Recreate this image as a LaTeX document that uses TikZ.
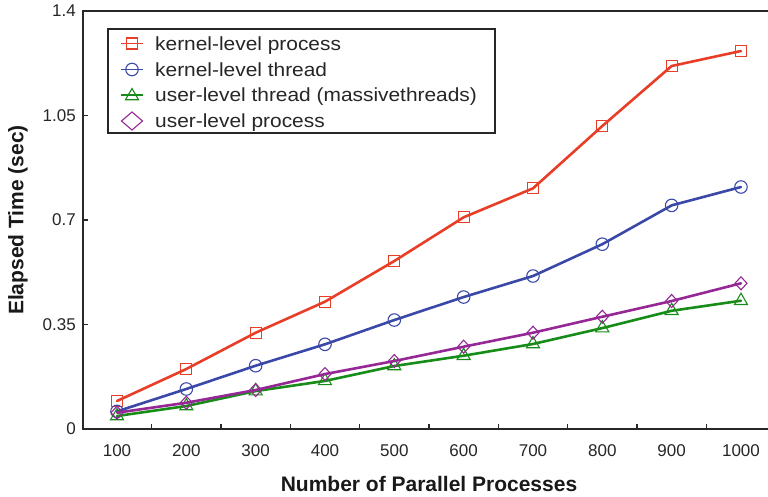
\documentclass[tikz,border=0pt]{standalone}
\usepackage{fontspec}
\setmainfont{Liberation Sans}
\newfontfamily\legendfont[FakeStretch=1.1]{Liberation Sans}
\usetikzlibrary{shapes.geometric}

\definecolor{kproc}{RGB}{232,62,40}
\definecolor{kthr}{RGB}{58,72,168}
\definecolor{uthr}{RGB}{24,140,24}
\definecolor{uproc}{RGB}{150,40,150}
\definecolor{axisgray}{RGB}{40,40,40}

\begin{document}
\begin{tikzpicture}[x=1pt,y=-1pt,
  ticklabel/.style={inner sep=0pt, font=\fontsize{17}{17}\selectfont, text=black!85},
  axislabel/.style={inner sep=0pt, font=\fontsize{21}{21}\selectfont\bfseries, text=black!90},
  legendtext/.style={inner sep=0pt, anchor=base west, font=\legendfont\fontsize{19}{19}\selectfont, text=black!85},
  serieline/.style={line width=2.6pt, line join=round, line cap=round},
  stubline/.style={line width=1.4pt},
  markbase/.style={inner sep=0pt, outer sep=0pt, line width=1.1pt},
  sqmark/.style={markbase, draw, rectangle, minimum size=11pt},
  circmark/.style={markbase, draw, circle, minimum size=12.5pt},
  trimark/.style={markbase, draw, regular polygon, regular polygon sides=3, minimum size=15pt},
  diamark/.style={markbase, draw, diamond, minimum width=12pt, minimum height=13pt},
  bigdiamark/.style={markbase, draw, diamond, minimum width=21pt, minimum height=18pt}
]
\useasboundingbox (0,0) rectangle (768,496);

% axes frame
\draw[axisgray, line width=1.6pt] (776,11) -- (83,11) -- (83,429) -- (776,429);

% y ticks and labels
\foreach \v/\lab in {0/0, 0.35/0.35, 0.7/0.7, 1.05/1.05, 1.4/1.4} {
  \pgfmathsetmacro{\yy}{429-298.57*\v}
  \draw[axisgray, line width=1.2pt] (83,\yy) -- (88,\yy);
  \node[ticklabel, anchor=east] (yl\lab) at (76,\yy) {\lab};
}

% x ticks (between labels) and labels
\foreach \n in {1,...,10} {
  \pgfmathsetmacro{\xx}{117+69.33*(\n-1)}
  \node[ticklabel, anchor=base] (xl\n) at (\xx,456.7) {\the\numexpr\n*100\relax};
}
\foreach \n in {1,...,10} {
  \pgfmathsetmacro{\xx}{117+69.33*(\n-1)+34.665}
  \draw[axisgray, line width=1.2pt] (\xx,429) -- (\xx,424);
}

% axis titles
\node[axislabel, anchor=base] (xtitle) at (429,491) {Number of Parallel Processes};
\node[axislabel, anchor=base, rotate=90] (ytitle) at (23.3,220) {Elapsed Time (sec)};

% data (x: processes, y: seconds)
\begin{scope}[shift={(47.67,429)}, x=0.6933pt, y=298.57pt]
  \foreach \v [count=\i] in {0.0938,0.201,0.3225,0.4264,0.5627,0.709,0.806,1.0148,1.2158,1.266}
    \coordinate (r\i) at ({100*\i},\v);
  \foreach \v [count=\i] in {0.059,0.134,0.212,0.2837,0.365,0.442,0.5124,0.619,0.749,0.8105}
    \coordinate (b\i) at ({100*\i},\v);
  \foreach \v [count=\i] in {0.0435,0.077,0.127,0.161,0.211,0.2455,0.2847,0.338,0.396,0.4297}
    \coordinate (g\i) at ({100*\i},\v);
  \foreach \v [count=\i] in {0.0546,0.088,0.1306,0.184,0.2277,0.2757,0.3225,0.376,0.4287,0.488}
    \coordinate (p\i) at ({100*\i},\v);
\end{scope}

\draw[serieline, kproc] (r1) \foreach \i in {2,...,10} { -- (r\i) };
\foreach \i in {1,...,10} \node[sqmark, draw=kproc] (rm\i) at (r\i) {};

\draw[serieline, kthr] (b1) \foreach \i in {2,...,10} { -- (b\i) };
\foreach \i in {1,...,10} \node[circmark, draw=kthr] (bm\i) at (b\i) {};

\draw[serieline, uthr] (g1) \foreach \i in {2,...,10} { -- (g\i) };
\foreach \i in {1,...,10} \node[trimark, draw=uthr] (gm\i) at (g\i) {};

\draw[serieline, uproc] (p1) \foreach \i in {2,...,10} { -- (p\i) };
\foreach \i in {1,...,10} \node[diamark, draw=uproc] (pm\i) at (p\i) {};

% legend
\node[draw=black!85, line width=1.2pt, fill=white, inner sep=0pt,
      minimum width=387pt, minimum height=104pt] (legend) at (301.5,81) {};

\coordinate (la1) at (121,43.5);  \coordinate (lb1) at (143,43.5);
\coordinate (la2) at (121,69.5);  \coordinate (lb2) at (143,69.5);
\coordinate (la3) at (121,95);    \coordinate (lb3) at (143,95);

\draw[stubline, kproc] (la1) -- (lb1);
\node[sqmark, draw=kproc] (lm1) at (132,43.5) {};
\node[legendtext] (lt1) at (155,50) {kernel-level process};

\draw[stubline, kthr] (la2) -- (lb2);
\node[circmark, draw=kthr] (lm2) at (132,69.5) {};
\node[legendtext] (lt2) at (155,76.5) {kernel-level thread};

\draw[stubline, uthr] (la3) -- (lb3);
\node[trimark, draw=uthr] (lm3) at (132,96) {};
\node[legendtext] (lt3) at (155,101.7) {user-level thread (massivethreads)};

\node[bigdiamark, draw=uproc] (lm4) at (132,121) {};
\node[legendtext] (lt4) at (155,127.3) {user-level process};
\end{tikzpicture}
\end{document}
